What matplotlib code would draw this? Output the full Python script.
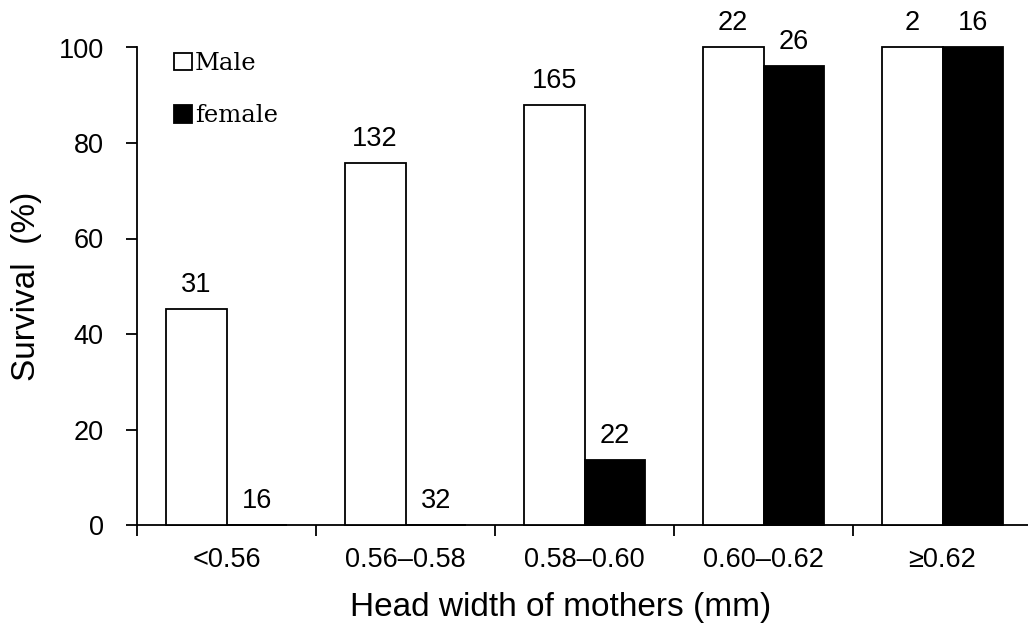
import matplotlib
matplotlib.use("Agg")
import matplotlib.pyplot as plt
import numpy as np

categories = ["<0.56", "0.56\u20130.58", "0.58\u20130.60", "0.60\u20130.62", "\u22650.62"]
male_survival = [45.2, 75.8, 87.9, 100.0, 100.0]
female_survival = [0.0, 0.0, 13.6, 96.2, 100.0]
male_n = [31, 132, 165, 22, 2]
female_n = [16, 32, 22, 26, 16]

plt.rcParams['font.family'] = ['Liberation Sans', 'DejaVu Sans']

fig = plt.figure(figsize=(10.28, 6.30), dpi=100)
ax = fig.add_axes([137/1028, 105/630, 895/1028, (525-47.5)/630])

x = np.arange(len(categories))
w = 0.34
b1 = ax.bar(x - w/2, male_survival, w, facecolor='white', edgecolor='black', linewidth=1.3,
            label='Male', clip_on=False, zorder=3)
b2 = ax.bar(x + w/2, female_survival, w, facecolor='black', edgecolor='black', linewidth=1.3,
            label='female', clip_on=False, zorder=3)

fs = 19.5
for xi, v, n in zip(x - w/2, male_survival, male_n):
    ax.annotate(str(n), (xi, v), xytext=(0, 17), textcoords='offset pixels',
                ha='center', va='baseline', fontsize=fs, annotation_clip=False)
for xi, v, n in zip(x + w/2, female_survival, female_n):
    ax.annotate(str(n), (xi, v), xytext=(0, 17), textcoords='offset pixels',
                ha='center', va='baseline', fontsize=fs, annotation_clip=False)

ax.set_xlim(-0.5, 4.5)
ax.set_ylim(0, 100)
ax.set_yticks([0, 20, 40, 60, 80, 100])
ax.set_xticks(np.arange(-0.5, 5.0, 1.0))
ax.set_xticklabels([])
ax.set_xticks(x, minor=True)
ax.set_xticklabels(categories, minor=True)
ax.tick_params(axis='x', which='major', direction='out', length=8, width=1.3)
ax.tick_params(axis='x', which='minor', length=0, pad=16, labelsize=fs)
ax.tick_params(axis='y', direction='out', length=8, width=1.3, pad=16, labelsize=fs)

for s in ['top', 'right']:
    ax.spines[s].set_visible(False)
for s in ['left', 'bottom']:
    ax.spines[s].set_linewidth(1.3)

ax.set_ylabel('Survival  (%)', fontsize=24, labelpad=12)
ax.set_xlabel('Head width of mothers (mm)', fontsize=24)
ax.xaxis.set_label_coords((561 - 137) / 895, (525 - 592) / 477.5)

leg = ax.legend(handles=[b1, b2], loc='upper left', bbox_to_anchor=(174/1028, 1 - 52/630),
                bbox_transform=fig.transFigure, frameon=False,
                prop={'family': 'DejaVu Serif', 'size': 17.5},
                handlelength=0.75, handleheight=0.75, handletextpad=0.1,
                labelspacing=1.2, borderpad=0, borderaxespad=0)

fig.savefig('out.png', dpi=100)
